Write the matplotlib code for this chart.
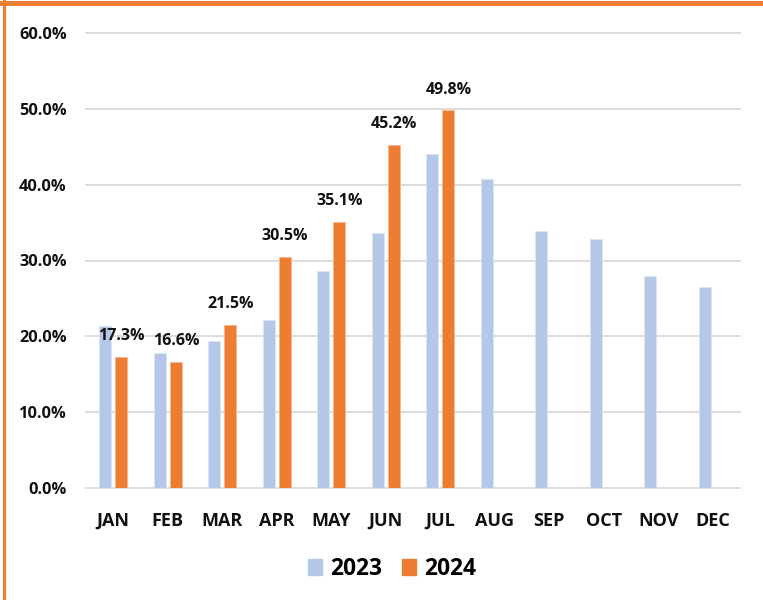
import numpy as np
import matplotlib
matplotlib.use("Agg")
import matplotlib.pyplot as plt
from matplotlib.lines import Line2D
from matplotlib.patches import Patch

plt.rcParams['font.family'] = ['Open Sans', 'DejaVu Sans']

months = ["JAN", "FEB", "MAR", "APR", "MAY", "JUN", "JUL", "AUG", "SEP", "OCT", "NOV", "DEC"]
v2023 = [21.3, 17.85, 19.35, 22.2, 28.6, 33.6, 44.1, 40.7, 33.9, 32.8, 27.9, 26.5]
v2024 = [17.3, 16.6, 21.5, 30.5, 35.1, 45.2, 49.8]
yticks = [0, 10, 20, 30, 40, 50, 60]

c23 = "#B4C7E7"
c24 = "#ED7D31"

fig = plt.figure(figsize=(7.63, 6.0), dpi=100)
ax = fig.add_axes([86/763, 112/600, 654/763, 455/600])

x = np.arange(len(months))
w = 0.225
off = 0.148
ax.bar(x - off, v2023, w, color=c23, edgecolor="#DCE5F4", linewidth=0.6, zorder=2)
b24 = ax.bar(x[:len(v2024)] + off, v2024, w, color=c24, edgecolor="#F5B88F", linewidth=0.6, zorder=2)

for xi, v in zip(x[:len(v2024)] + off, v2024):
    ax.annotate(f"{v:.1f}%", (xi, v), xytext=(0, 15), textcoords="offset points",
                ha="center", va="center", fontsize=11.5, fontweight="bold", color="#111111")

for t in yticks:
    ax.axhline(t, color="#D9D9D9", linewidth=1.3, zorder=0, clip_on=False)

ax.set_xlim(-0.5, len(months) - 0.5)
ax.set_ylim(0, 60)
ax.set_yticks(yticks)
ax.set_yticklabels([f"{t:.1f}%" for t in yticks])
ax.set_xticks(x)
ax.set_xticklabels(months)
ax.tick_params(axis="y", length=0, pad=14, labelsize=11.8)
ax.tick_params(axis="x", length=0, pad=17, labelsize=13)
for lab in ax.get_xticklabels() + ax.get_yticklabels():
    lab.set_fontweight("bold")
    lab.set_color("#111111")
for s in ax.spines.values():
    s.set_visible(False)

handles = [Patch(color=c23, label="2023"), Patch(color=c24, label="2024")]
leg = fig.legend(handles=handles, loc="center", bbox_to_anchor=(392/763, 1 - 569/600), ncol=2,
                 frameon=False, prop={"weight": "bold", "size": 16.4},
                 handlelength=0.65, handleheight=0.65, handletextpad=0.35, columnspacing=0.85)

# orange frame (top and left edges visible)
fig.add_artist(Line2D([0, 1], [1 - 2.5/600, 1 - 2.5/600], color=c24, linewidth=3.6,
                      transform=fig.transFigure))
fig.add_artist(Line2D([4.3/763, 4.3/763], [0, 1], color=c24, linewidth=2.2,
                      transform=fig.transFigure))

fig.savefig("out.png", dpi=100)
